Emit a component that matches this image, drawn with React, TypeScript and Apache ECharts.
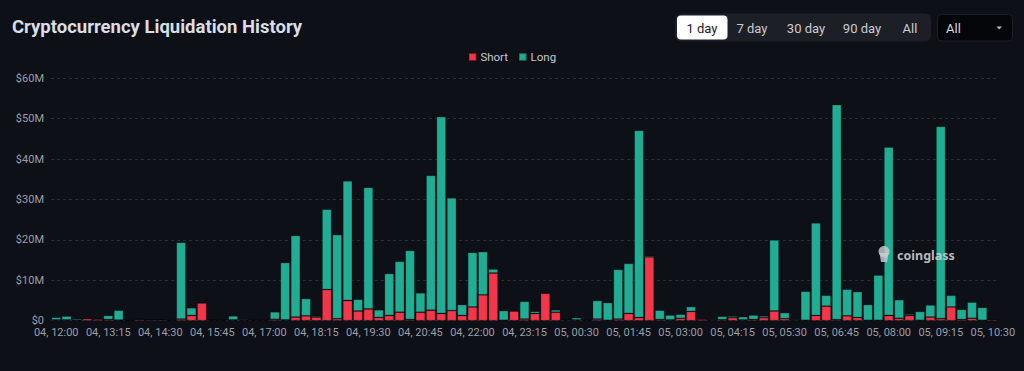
import React, { useEffect, useRef } from "react";
import * as echarts from "echarts";

// values in millions USD, 15-minute buckets from 04, 12:00 to 05, 10:30
const shortValues = [
  0.2, 0.2, 0.15, 0.5, 0.4, 0.3, 0.15, 0.05, 0.3, 0.25,
  0.25, 0.05, 0.4, 1.3, 4.4, 0.15, 0.15, 0.2, 0.15, 0.15,
  0.05, 0.35, 0.2, 0.9, 1.2, 0.9, 7.7, 0.5, 5.0, 2.4,
  2.9, 0.8, 1.3, 2.1, 0.3, 2.1, 2.6, 1.8, 2.5, 1.3,
  3.4, 6.4, 11.8, 0.1, 2.4, 0.4, 1.8, 6.8, 2.1, 0.2,
  0.2, 0.1, 0.4, 0.1, 0.4, 1.8, 0.8, 15.8, 0.3, 0.2,
  0.6, 2.3, 0.4, 0.05, 0.25, 0.75, 0.2, 0.3, 0.75, 2.4,
  0.5, 0.05, 0.1, 1.3, 3.6, 0.25, 1.2, 0.8, 0.1, 0.1,
  1.3, 0.6, 1.3, 0.1, 0.9, 0.5, 3.4, 0.3, 0.6, 0.1,
  0.3,
];
const longValues = [
  0.65, 0.95, 0.35, 0.1, 0.1, 1.0, 2.45, 0.05, 0.2, 0.05,
  0.05, 0.05, 19.0, 1.9, 0.1, 0.05, 0.05, 1.0, 0.25, 0.05,
  0.15, 1.85, 14.2, 20.2, 4.3, 0.3, 19.9, 20.8, 29.6, 2.9,
  30.1, 1.9, 10.4, 12.6, 17.1, 4.8, 33.4, 48.7, 27.9, 2.7,
  13.5, 10.7, 1.0, 2.4, 0.2, 4.4, 0.5, 0.2, 0.6, 0.2,
  0.55, 0.1, 4.6, 4.4, 12.3, 12.4, 46.3, 0.3, 2.3, 1.2,
  1.0, 1.2, 0.1, 0.25, 0.85, 0.4, 0.8, 1.1, 0.45, 17.6,
  1.5, 0.25, 7.2, 22.9, 2.7, 53.25, 6.6, 6.4, 3.9, 11.2,
  41.7, 4.6, 0.35, 2.2, 3.0, 47.6, 2.9, 2.5, 4.0, 3.2,
  0.0,
];

const startDay = 4;
const startMinutes = 12 * 60;
const stepMinutes = 15;
const categories: string[] = shortValues.map((_, i) => {
  const total = startMinutes + i * stepMinutes;
  const day = startDay + Math.floor(total / 1440);
  const m = total % 1440;
  const hh = String(Math.floor(m / 60)).padStart(2, "0");
  const mm = String(m % 60).padStart(2, "0");
  return `0${day}, ${hh}:${mm}`;
});

const rangeButtons = ["1 day", "7 day", "30 day", "90 day", "All"];
const buttonCenters = [702, 752, 806, 862, 910];

const BG = "#0e1017";
const RED = "#f4364a";
const TEAL = "#21ad93";
const FONT = "'Liberation Sans Narrow', 'Roboto', sans-serif";

export default function App() {
  const ref = useRef<HTMLDivElement>(null);
  useEffect(() => {
    document.body.style.margin = "0";
    document.body.style.background = BG;
    const chart = echarts.init(ref.current!, null, { renderer: "svg" });
    const graphics: any[] = [
      {
        type: "rect",
        z: 100,
        shape: { x: 675, y: 13.5, width: 256, height: 28, r: 6 },
        style: { fill: "#1d1f27" },
      },
      {
        type: "rect",
        z: 100,
        shape: { x: 677, y: 15.5, width: 50.5, height: 24, r: 4 },
        style: { fill: "#ffffff" },
      },
      {
        type: "rect",
        z: 100,
        shape: { x: 937.5, y: 14.5, width: 75, height: 26.5, r: 4 },
        style: { fill: "#05060a", stroke: "#1d1f27", lineWidth: 1 },
      },
      {
        type: "text",
        z: 100,
        x: 946,
        y: 28,
        style: { text: "All", fill: "#d8d9dc", font: `13px ${FONT}`, verticalAlign: "middle" },
      },
      {
        type: "polygon",
        z: 100,
        shape: { points: [[996.5, 26.5], [1002, 26.5], [999.25, 29.5]] },
        style: { fill: "#b8bac0" },
      },
      {
        type: "text",
        z: 100,
        x: 897,
        y: 255,
        style: {
          text: "coinglass",
          fill: "rgba(205,207,212,0.9)",
          font: `bold 12.5px 'Noto Sans', sans-serif`,
          verticalAlign: "middle",
        },
      },
      {
        type: "ellipse",
        z: 100,
        shape: { cx: 884, cy: 251.5, rx: 5.5, ry: 5.5 },
        style: { fill: "rgba(205,207,212,0.8)" },
      },
      {
        type: "polygon",
        z: 100,
        shape: { points: [[879.5, 253], [888.5, 253], [887, 262], [881, 262]] },
        style: { fill: "rgba(205,207,212,0.8)" },
      },
    ];
    rangeButtons.forEach((t, i) => {
      graphics.push({
        type: "text",
        z: 101,
        x: buttonCenters[i],
        y: 28,
        style: {
          text: t,
          fill: i === 0 ? "#16181f" : "#c9cbd0",
          font: `13px ${FONT}`,
          align: "center",
          verticalAlign: "middle",
        },
      });
    });

    chart.setOption({
      animation: false,
      backgroundColor: BG,
      title: {
        text: "Cryptocurrency Liquidation History",
        left: 7,
        top: 12,
        textStyle: { color: "#d9dee6", fontSize: 18.5, fontWeight: "bold", fontFamily: FONT },
      },
      legend: {
        data: ["Short", "Long"],
        top: 46,
        left: "center",
        itemWidth: 7.5,
        itemHeight: 7.5,
        itemGap: 10,
        icon: "rect",
        textStyle: { color: "#c4c8d0", fontSize: 11.5, fontFamily: FONT, padding: [0, 0, 0, -1] },
      },
      grid: { left: 51, right: 26, top: 78.3, bottom: 50.3, containLabel: false },
      xAxis: {
        type: "category",
        data: categories,
        axisLine: { show: false },
        axisTick: { show: false },
        axisLabel: {
          interval: 4,
          color: "#9a9ea7",
          fontSize: 11,
          fontFamily: FONT,
          margin: 6,
        },
      },
      yAxis: {
        type: "value",
        min: 0,
        max: 60,
        interval: 10,
        axisLine: { show: false },
        axisTick: { show: false },
        axisLabel: {
          color: "#9a9ea7",
          fontSize: 11,
          fontFamily: FONT,
          margin: 7,
          formatter: (v: number) => (v === 0 ? "$0" : `$${v}M`),
        },
        splitLine: { lineStyle: { color: "#2a2d36", type: [3, 3] } },
      },
      graphic: graphics,
      series: [
        {
          name: "Short",
          type: "bar",
          stack: "total",
          data: shortValues,
          barCategoryGap: "8%",
          itemStyle: { color: RED, borderColor: "rgba(0,0,0,0.3)", borderWidth: 0.8 },
        },
        {
          name: "Long",
          type: "bar",
          stack: "total",
          data: longValues,
          barCategoryGap: "8%",
          itemStyle: { color: TEAL, borderColor: "rgba(0,0,0,0.3)", borderWidth: 0.8 },
        },
      ],
    });
    return () => chart.dispose();
  }, []);
  return (
    <div
      ref={ref}
      style={{ position: "fixed", left: 0, top: 0, width: 1024, height: 371, background: BG }}
    />
  );
}
